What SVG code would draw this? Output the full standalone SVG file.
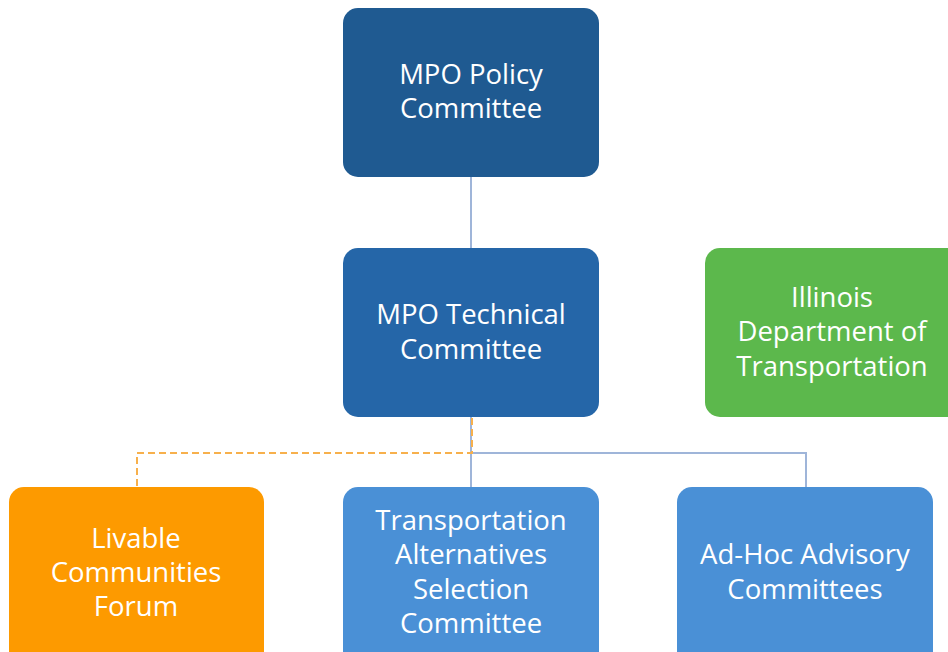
<svg xmlns="http://www.w3.org/2000/svg" width="948" height="652" viewBox="0 0 948 652">
<style>
text{font-family:"Open Sans","Noto Sans","Liberation Sans",sans-serif;font-size:27.5px;fill:#ffffff;text-anchor:middle}
.ln{stroke:#9fb5d9;stroke-width:2;fill:none}
.dash{stroke:#f7b04c;stroke-width:2;fill:none;stroke-dasharray:7 4}
</style>
<rect width="948" height="652" fill="#ffffff"/>
<g id="connectors">
<line class="ln" x1="471" y1="177" x2="471" y2="248"/>
<polyline class="ln" points="471,417 471,487"/>
<polyline class="ln" points="471,453 806,453 806,487"/>
<polyline class="dash" points="472,418 472,453 137,453 137,487"/>
</g>
<g id="policy">
<rect x="343" y="8" width="256" height="169" rx="15" fill="#1f5a91"/>
<text x="471" y="84">MPO Policy</text>
<text x="471" y="118">Committee</text>
</g>
<g id="technical">
<rect x="343" y="248" width="256" height="169" rx="15" fill="#2566a8"/>
<text x="471" y="324">MPO Technical</text>
<text x="471" y="359">Committee</text>
</g>
<g id="idot">
<rect x="705" y="248" width="256" height="169" rx="15" fill="#5cb84c"/>
<text x="832" y="307">Illinois</text>
<text x="832" y="341">Department of</text>
<text x="832" y="375.5">Transportation</text>
</g>
<g id="livable">
<rect x="9" y="487" width="255" height="180" rx="15" fill="#fd9a00"/>
<text x="136" y="548">Livable</text>
<text x="136" y="582">Communities</text>
<text x="136" y="616">Forum</text>
</g>
<g id="tasc">
<rect x="343" y="487" width="256" height="180" rx="15" fill="#4a90d6"/>
<text x="471" y="530">Transportation</text>
<text x="471" y="564">Alternatives</text>
<text x="471" y="599">Selection</text>
<text x="471" y="633">Committee</text>
</g>
<g id="adhoc">
<rect x="677" y="487" width="256" height="180" rx="15" fill="#4a90d6"/>
<text x="805" y="564">Ad-Hoc Advisory</text>
<text x="805" y="599">Committees</text>
</g>
</svg>
